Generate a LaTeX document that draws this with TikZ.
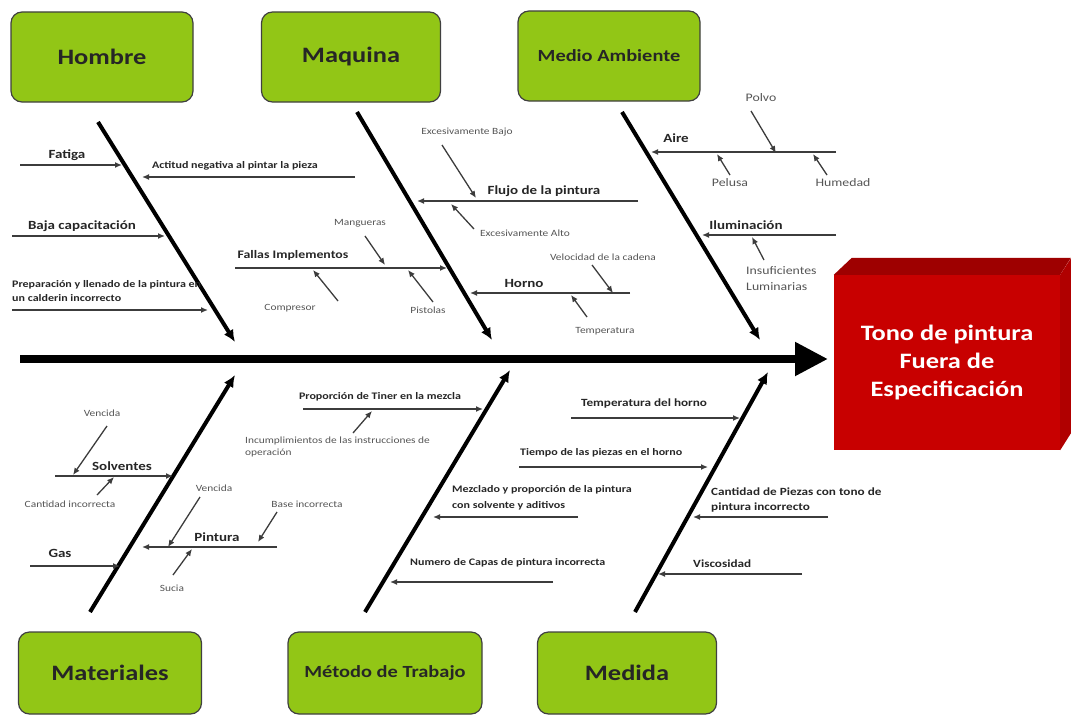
\documentclass[tikz,border=0pt]{standalone}
\usepackage{fontspec}
\setmainfont{Carlito}[FakeStretch=1.2]
\usepackage{tikz}
\usetikzlibrary{positioning}
\usetikzlibrary{arrows.meta}
\definecolor{catgreen}{RGB}{146,198,22}
\definecolor{headred}{RGB}{200,0,0}
\definecolor{headtop}{RGB}{158,0,0}
\definecolor{headside}{RGB}{176,0,0}
\definecolor{twiggray}{RGB}{60,60,60}
\definecolor{notegray}{RGB}{85,85,85}

\begin{document}
\begin{tikzpicture}[x=1pt, y=-1pt,
  cat/.style={draw=black!75, line width=1.2pt, fill=catgreen, rounded corners=11pt, minimum width=182pt, minimum height=90pt, font=\bfseries\fontsize{22}{24}\selectfont, text=black!85},
  cause/.style={inner sep=0pt, font=\bfseries\fontsize{12.5}{14}\selectfont, text=black!85},
  note/.style={inner sep=0pt, align=left, font=\bfseries\fontsize{10}{14}\selectfont, text=black!85},
  sub/.style={inner sep=0pt, align=left, font=\fontsize{9.5}{12.5}\selectfont, text=notegray},
  bone/.style={line width=4pt, -{Latex[length=12pt,width=11pt]}},
  spine/.style={line width=8pt, -{Triangle[length=33pt,width=32pt]}},
  twig/.style={line width=1.3pt, draw=twiggray, -{Latex[length=7pt,width=6pt]}}]
\useasboundingbox (0,0) rectangle (1071,717);

% categories
\node[cat] (hombre) at (102,57) {Hombre};
\node[cat, minimum width=179pt] (maquina) at (351,57) {Maquina};
\node[cat, font=\bfseries\fontsize{17}{19}\selectfont] (medio) at (609,56) {Medio Ambiente};
\node[cat, minimum width=183pt, minimum height=82pt] (materiales) at (110,673) {Materiales};
\node[cat, minimum width=194pt, minimum height=82pt, font=\bfseries\fontsize{17}{19}\selectfont] (metodo) at (385,673) {Método de Trabajo};
\node[cat, minimum width=179pt, minimum height=82pt] (medida) at (627,673) {Medida};

% effect
\node[fill=headred, minimum width=226pt, minimum height=175pt, align=center, text=white, font=\bfseries\fontsize{22}{28}\selectfont] (head) at (947,362.5) {Tono de pintura\\Fuera de\\Especificación};
\fill[headtop] (head.north west) -- ++(18,-17) -- ++(219,0) -- (head.north east) -- cycle;
\fill[headside] (head.north east) -- ++(11,-17) -- ++(0,175) -- (head.south east) -- cycle;

% spine and bones
\coordinate (spS) at (20,359);
\coordinate (spE) at (828,359);
\draw[spine] (spS) -- (spE);
\coordinate (hT) at (98,122);    \coordinate (hE) at (235,342);
\coordinate (mT) at (357,112);   \coordinate (mE) at (492,340);
\coordinate (aT) at (622,112);   \coordinate (aE) at (760,340);
\coordinate (matS) at (90,612);  \coordinate (matE) at (235,375);
\coordinate (metS) at (365,612); \coordinate (metE) at (510,370);
\coordinate (medS) at (635,612); \coordinate (medE) at (768,372);
\draw[bone] (hT) -- (hE);
\draw[bone] (mT) -- (mE);
\draw[bone] (aT) -- (aE);
\draw[bone] (matS) -- (matE);
\draw[bone] (metS) -- (metE);
\draw[bone] (medS) -- (medE);

% Hombre
\node[cause] (fatiga) at (67,155) {Fatiga};
\coordinate (fatigaS) at (20,165); \coordinate (fatigaE) at (122,165);
\draw[twig] (fatigaS) -- (fatigaE);
\node[note] (actitud) at (235,166) {Actitud negativa al pintar la pieza};
\coordinate (actitudS) at (355,177); \coordinate (actitudE) at (142,177);
\draw[twig] (actitudS) -- (actitudE);
\node[cause] (bajacap) at (82,226) {Baja capacitación};
\coordinate (bajacapS) at (12,236); \coordinate (bajacapE) at (165,236);
\draw[twig] (bajacapS) -- (bajacapE);
\node[note, anchor=west] (prepar) at (12,291) {Preparación y llenado de la pintura en\\un calderin incorrecto};
\coordinate (preparS) at (12,310); \coordinate (preparE) at (208,310);
\draw[twig] (preparS) -- (preparE);

% Maquina
\node[cause, font=\bfseries\fontsize{11.5}{14}\selectfont] (fallas) at (293,255) {Fallas Implementos};
\coordinate (fallasS) at (235,268); \coordinate (fallasE) at (447,268);
\draw[twig] (fallasS) -- (fallasE);
\node[sub] (mangueras) at (360,223) {Mangueras};
\coordinate (manguerasS) at (365,236); \coordinate (manguerasE) at (385,265);
\draw[twig] (manguerasS) -- (manguerasE);
\node[sub] (compresor) at (290,308) {Compresor};
\coordinate (compresorS) at (338,301); \coordinate (compresorE) at (313,270);
\draw[twig] (compresorS) -- (compresorE);
\node[sub] (pistolas) at (428,310) {Pistolas};
\coordinate (pistolasS) at (433,302); \coordinate (pistolasE) at (408,270);
\draw[twig] (pistolasS) -- (pistolasE);
\node[cause] (flujo) at (544,191) {Flujo de la pintura};
\coordinate (flujoS) at (638,201); \coordinate (flujoE) at (417,201);
\draw[twig] (flujoS) -- (flujoE);
\node[sub] (excbajo) at (467,132) {Excesivamente Bajo};
\coordinate (excbajoS) at (442,145); \coordinate (excbajoE) at (476,198);
\draw[twig] (excbajoS) -- (excbajoE);
\node[sub] (excalto) at (525,233) {Excesivamente Alto};
\coordinate (excaltoS) at (474,229); \coordinate (excaltoE) at (451,204);
\draw[twig] (excaltoS) -- (excaltoE);
\node[cause] (horno) at (524,283) {Horno};
\coordinate (hornoS) at (630,293); \coordinate (hornoE) at (470,293);
\draw[twig] (hornoS) -- (hornoE);
\node[sub] (velocidad) at (603,257) {Velocidad de la cadena};
\coordinate (velocidadS) at (592,265); \coordinate (velocidadE) at (613,293);
\draw[twig] (velocidadS) -- (velocidadE);
\node[sub] (temp) at (605,331) {Temperatura};
\coordinate (tempS) at (587,317); \coordinate (tempE) at (571,295);
\draw[twig] (tempS) -- (tempE);

% Medio Ambiente
\node[cause] (aire) at (676,138) {Aire};
\coordinate (aireS) at (836,152); \coordinate (aireE) at (651,152);
\draw[twig] (aireS) -- (aireE);
\node[sub, font=\fontsize{11.5}{15}\selectfont] (polvo) at (761,98) {Polvo};
\coordinate (polvoS) at (751,111); \coordinate (polvoE) at (776,153);
\draw[twig] (polvoS) -- (polvoE);
\node[sub, font=\fontsize{11.5}{15}\selectfont] (pelusa) at (730,183) {Pelusa};
\coordinate (pelusaS) at (730,175); \coordinate (pelusaE) at (717,154);
\draw[twig] (pelusaS) -- (pelusaE);
\node[sub, font=\fontsize{11.5}{15}\selectfont] (humedad) at (843,183) {Humedad};
\coordinate (humedadS) at (827,175); \coordinate (humedadE) at (813,154);
\draw[twig] (humedadS) -- (humedadE);
\node[cause] (ilum) at (746,225) {Iluminación};
\coordinate (ilumS) at (836,235); \coordinate (ilumE) at (702,235);
\draw[twig] (ilumS) -- (ilumE);
\node[sub, anchor=west, font=\fontsize{11.5}{16}\selectfont] (insuf) at (746,279) {Insuficientes\\Luminarias};
\coordinate (insufS) at (764,260); \coordinate (insufE) at (752,237);
\draw[twig] (insufS) -- (insufE);

% Materiales
\node[cause] (solventes) at (122,466) {Solventes};
\coordinate (solventesS) at (55,476); \coordinate (solventesE) at (173,476);
\draw[twig] (solventesS) -- (solventesE);
\node[sub] (vencidaA) at (102,413) {Vencida};
\coordinate (vencidaAS) at (107,426); \coordinate (vencidaAE) at (73,475);
\draw[twig] (vencidaAS) -- (vencidaAE);
\node[sub] (cantinc) at (70,504) {Cantidad incorrecta};
\coordinate (cantincS) at (97,495); \coordinate (cantincE) at (114,477);
\draw[twig] (cantincS) -- (cantincE);
\node[cause] (gas) at (60,553) {Gas};
\coordinate (gasS) at (30,566); \coordinate (gasE) at (120,566);
\draw[twig] (gasS) -- (gasE);
\node[cause] (pintura) at (217,537) {Pintura};
\coordinate (pinturaS) at (277,547); \coordinate (pinturaE) at (142,547);
\draw[twig] (pinturaS) -- (pinturaE);
\node[sub] (vencidaB) at (214,488) {Vencida};
\coordinate (vencidaBS) at (200,497); \coordinate (vencidaBE) at (168,547);
\draw[twig] (vencidaBS) -- (vencidaBE);
\node[sub] (baseinc) at (307,504) {Base incorrecta};
\coordinate (baseincS) at (277,512); \coordinate (baseincE) at (258,542);
\draw[twig] (baseincS) -- (baseincE);
\node[sub] (sucia) at (172,588) {Sucia};
\coordinate (suciaS) at (173,575); \coordinate (suciaE) at (192,549);
\draw[twig] (suciaS) -- (suciaE);

% Metodo de Trabajo
\node[note] (tiner) at (380,397) {Proporción de Tiner en la mezcla};
\coordinate (tinerS) at (303,409); \coordinate (tinerE) at (483,409);
\draw[twig] (tinerS) -- (tinerE);
\node[sub, anchor=west] (incumpl) at (245,447) {Incumplimientos de las instrucciones de\\operación};
\coordinate (incumplS) at (353,433); \coordinate (incumplE) at (372,411);
\draw[twig] (incumplS) -- (incumplE);
\node[note, anchor=west, font=\bfseries\fontsize{10}{15.5}\selectfont] (mezclado) at (452,498) {Mezclado y proporción de la pintura\\con solvente y aditivos};
\coordinate (mezcladoS) at (578,517); \coordinate (mezcladoE) at (433,517);
\draw[twig] (mezcladoS) -- (mezcladoE);
\node[note, anchor=west] (capas) at (410,563) {Numero de Capas de pintura incorrecta};
\coordinate (capasS) at (553,582); \coordinate (capasE) at (390,582);
\draw[twig] (capasS) -- (capasE);

% Medida
\node[note, anchor=west, font=\bfseries\fontsize{11}{15}\selectfont] (temphorno) at (581,404) {Temperatura del horno};
\coordinate (temphornoS) at (571,418); \coordinate (temphornoE) at (740,418);
\draw[twig] (temphornoS) -- (temphornoE);
\node[note, anchor=west] (tiempo) at (520,453) {Tiempo de las piezas en el horno};
\coordinate (tiempoS) at (519,467); \coordinate (tiempoE) at (708,467);
\draw[twig] (tiempoS) -- (tiempoE);
\node[note, anchor=west, font=\bfseries\fontsize{11}{15.5}\selectfont] (cantpiezas) at (711,500) {Cantidad de Piezas con tono de\\pintura incorrecto};
\coordinate (cantpiezasS) at (828,517); \coordinate (cantpiezasE) at (693,517);
\draw[twig] (cantpiezasS) -- (cantpiezasE);
\node[note, anchor=west, font=\bfseries\fontsize{11}{15}\selectfont] (viscosidad) at (693,564) {Viscosidad};
\coordinate (viscosidadS) at (802,574); \coordinate (viscosidadE) at (658,574);
\draw[twig] (viscosidadS) -- (viscosidadE);
\end{tikzpicture}
\end{document}
